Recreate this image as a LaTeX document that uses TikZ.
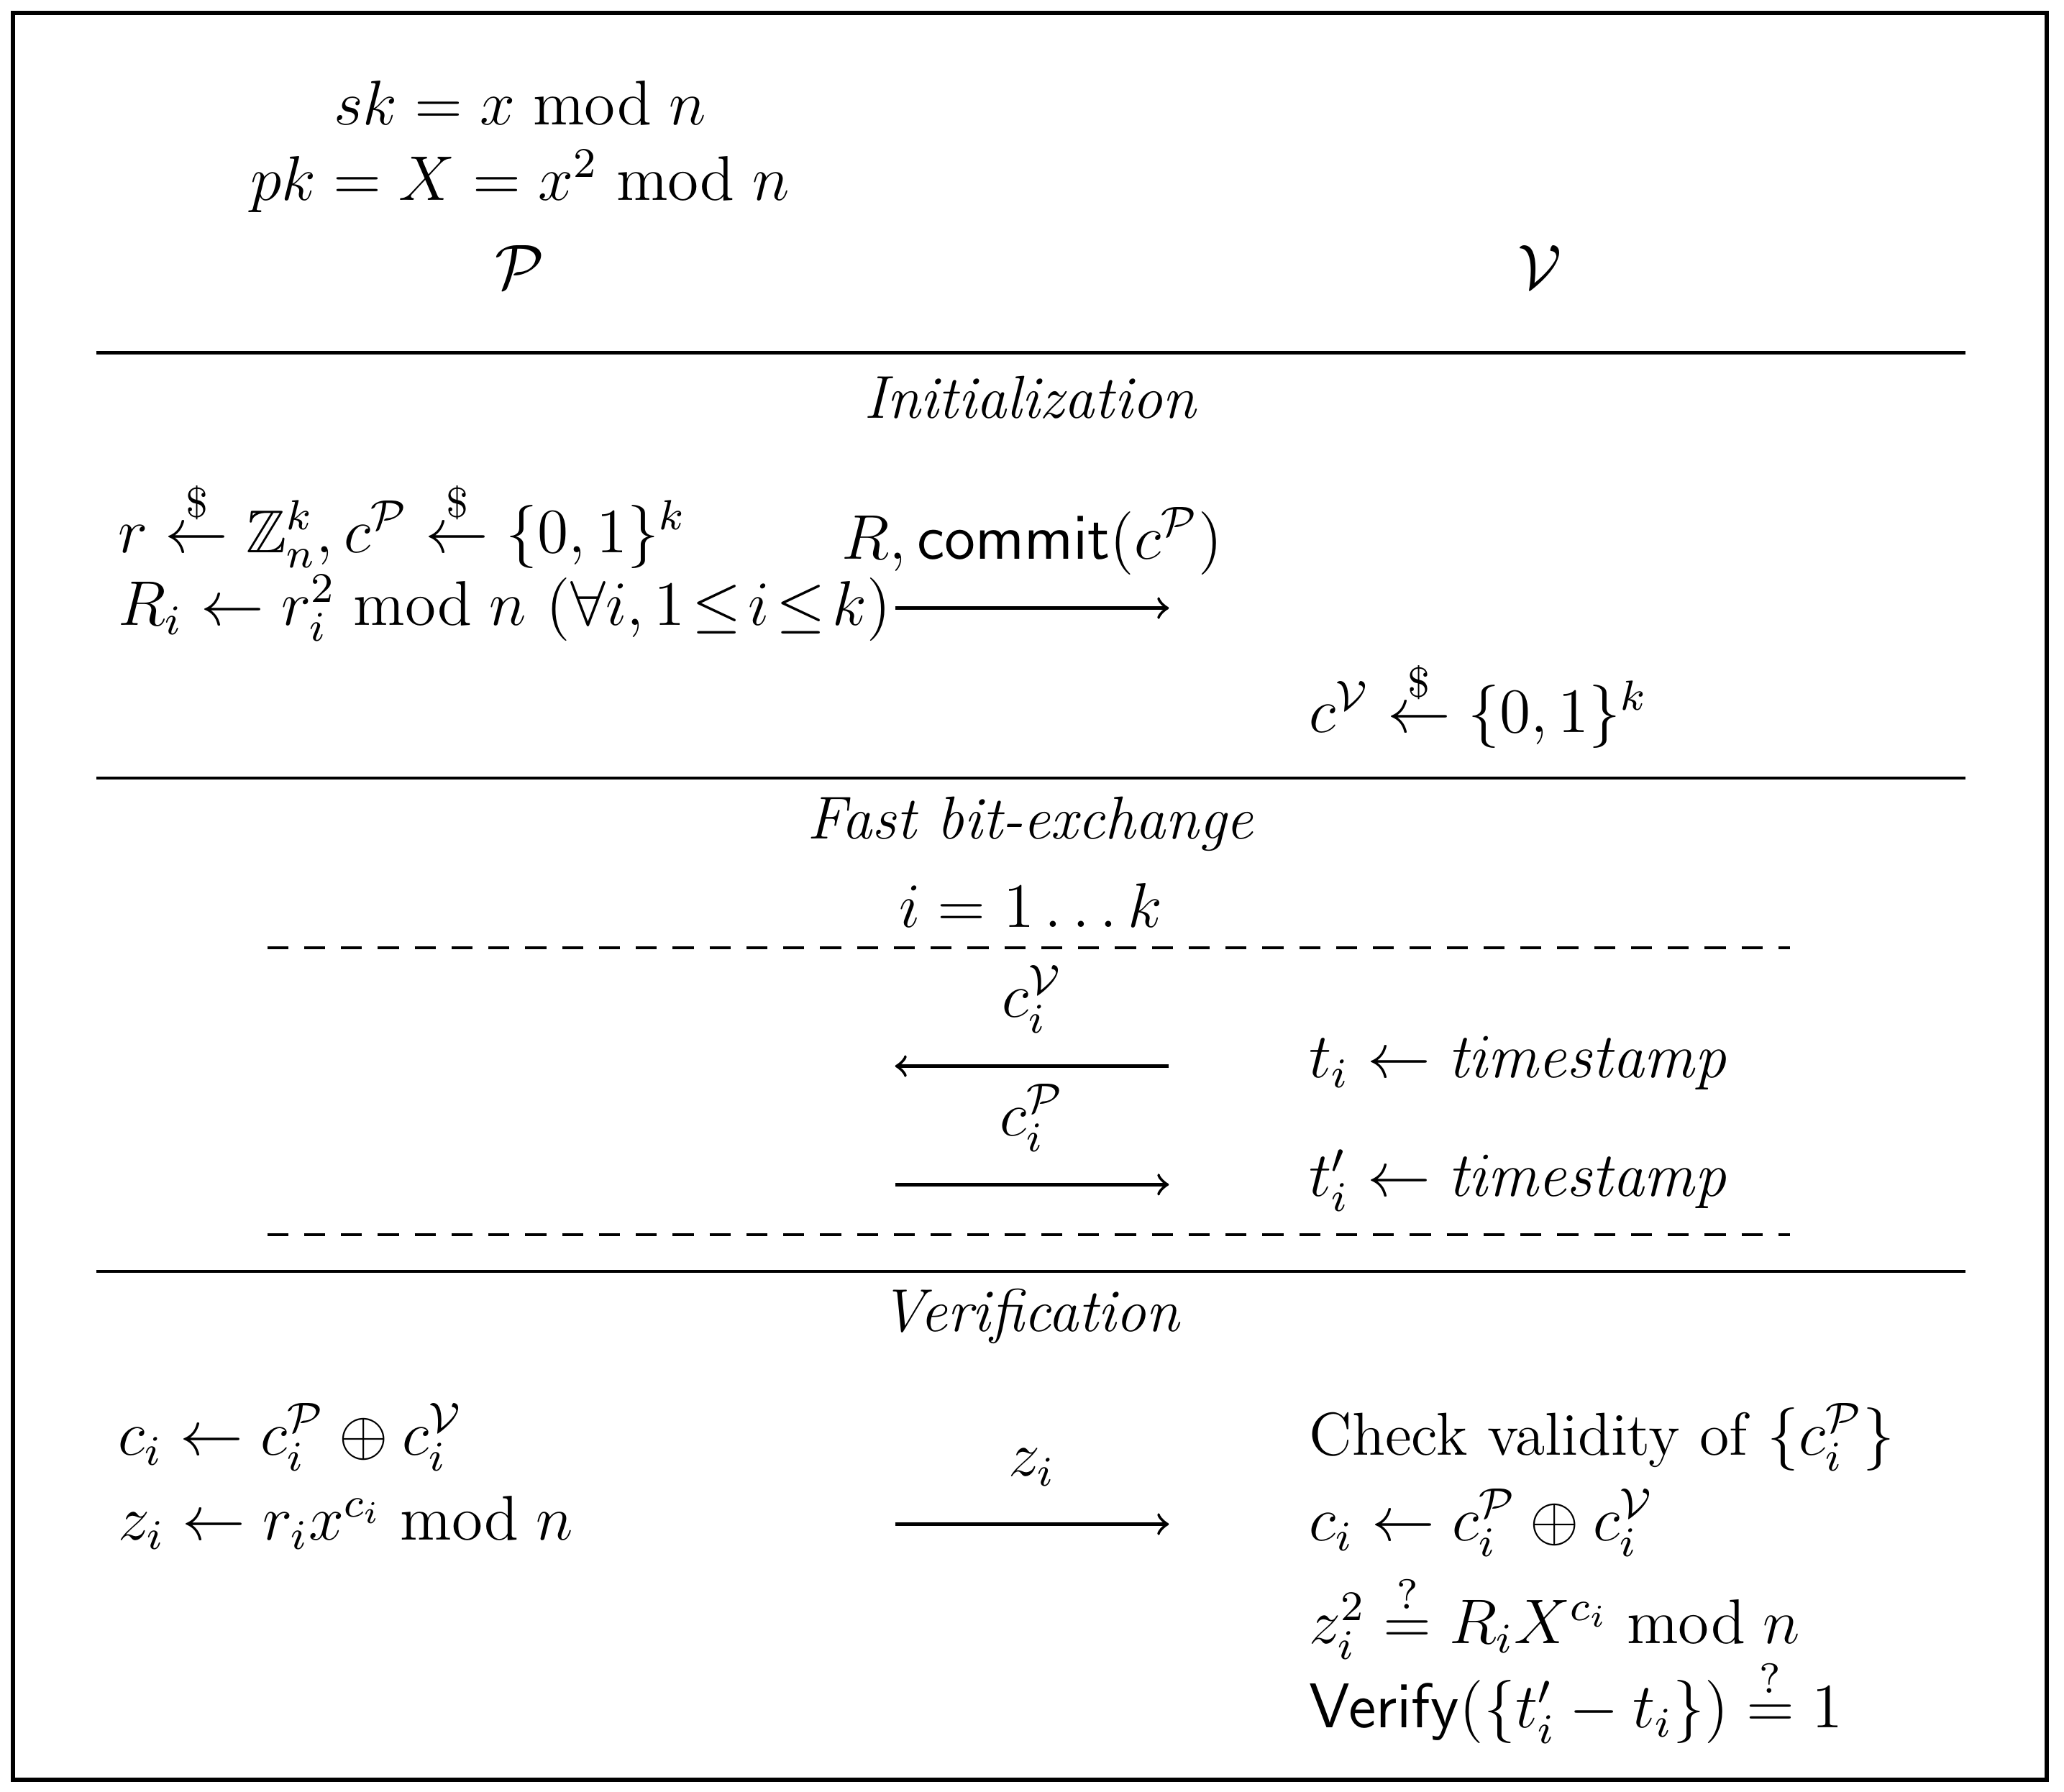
\documentclass[tikz,border=0pt]{standalone}
\usepackage{amsmath,amssymb}
\begin{document}
\begin{tikzpicture}[x=0.25pt,y=-0.25pt,
  every node/.style={font=\fontsize{11.5}{14}\selectfont,inner sep=1pt},
  lt/.style={anchor=west},
  rule/.style={line width=0.6pt},
  dashline/.style={line width=0.6pt,dash pattern=on 4pt off 3pt},
  msg/.style={->,line width=0.6pt}]
\useasboundingbox (0,0) rectangle (1568,1361);
\draw[line width=0.8pt] (10,10) rectangle (1555,1352);
\node (sk) at (395,78) {$sk = x \bmod n$};
\node (pk) at (395,138) {$pk = X = x^2 \bmod n$};
\node (P) at (395,203) {$\mathcal{P}$};
\node (V) at (1170,203) {$\mathcal{V}$};
\draw[rule] (73,268) -- (1493,268);
\node (init) at (783,302) {\textit{Initialization}};
\node[lt] (r) at (85,398) {$r \overset{\$}{\leftarrow} \mathbb{Z}_n^k, c^{\mathcal{P}} \overset{\$}{\leftarrow} \{0,1\}^k$};
\node[lt] (Ri) at (85,462) {$R_i \leftarrow r_i^2 \bmod n\ (\forall i, 1\!\leq\! i\!\leq\! k)$};
\coordinate (a1s) at (680,462); \coordinate (a1e) at (888,462);
\draw[msg] (a1s) -- (a1e) node[midway,above=5pt] {$R, \mathsf{commit}(c^{\mathcal{P}})$};
\node[lt] (cV) at (990,535) {$c^{\mathcal{V}} \overset{\$}{\leftarrow} \{0,1\}^k$};
\draw[rule] (73,591) -- (1493,591);
\node (fast) at (783,626) {\textit{Fast bit-exchange}};
\node (loop) at (783,688) {$i = 1 \ldots k$};
\draw[dashline] (203,720) -- (1360,720);
\coordinate (a2s) at (888,810); \coordinate (a2e) at (680,810);
\draw[msg] (a2s) -- (a2e) node[midway,above=5pt] {$c_i^{\mathcal{V}}$};
\node[lt] (t1) at (990,808) {$t_i \leftarrow \mathit{timestamp}$};
\coordinate (a3s) at (680,900); \coordinate (a3e) at (888,900);
\draw[msg] (a3s) -- (a3e) node[midway,above=5pt] {$c_i^{\mathcal{P}}$};
\node[lt] (t2) at (990,897) {$t_i' \leftarrow \mathit{timestamp}$};
\draw[dashline] (203,938) -- (1360,938);
\draw[rule] (73,966) -- (1493,966);
\node (ver) at (783,1000) {\textit{Verification}};
\node[lt] (ci) at (85,1092) {$c_i \leftarrow c_i^{\mathcal{P}} \oplus c_i^{\mathcal{V}}$};
\node[lt] (zi) at (85,1157) {$z_i \leftarrow r_i x^{c_i} \bmod n$};
\coordinate (a4s) at (680,1158); \coordinate (a4e) at (888,1158);
\draw[msg] (a4s) -- (a4e) node[midway,above=6pt] {$z_i$};
\node[lt] (chk) at (990,1092) {Check validity of $\{c_i^{\mathcal{P}}\}$};
\node[lt] (ci2) at (990,1157) {$c_i \leftarrow c_i^{\mathcal{P}} \oplus c_i^{\mathcal{V}}$};
\node[lt] (zz) at (990,1228) {$z_i^2 \stackrel{?}{=} R_i X^{c_i} \bmod n$};
\node[lt] (vf) at (990,1292) {$\mathsf{Verify}(\{t_i' - t_i\}) \stackrel{?}{=} 1$};
\end{tikzpicture}
\end{document}
